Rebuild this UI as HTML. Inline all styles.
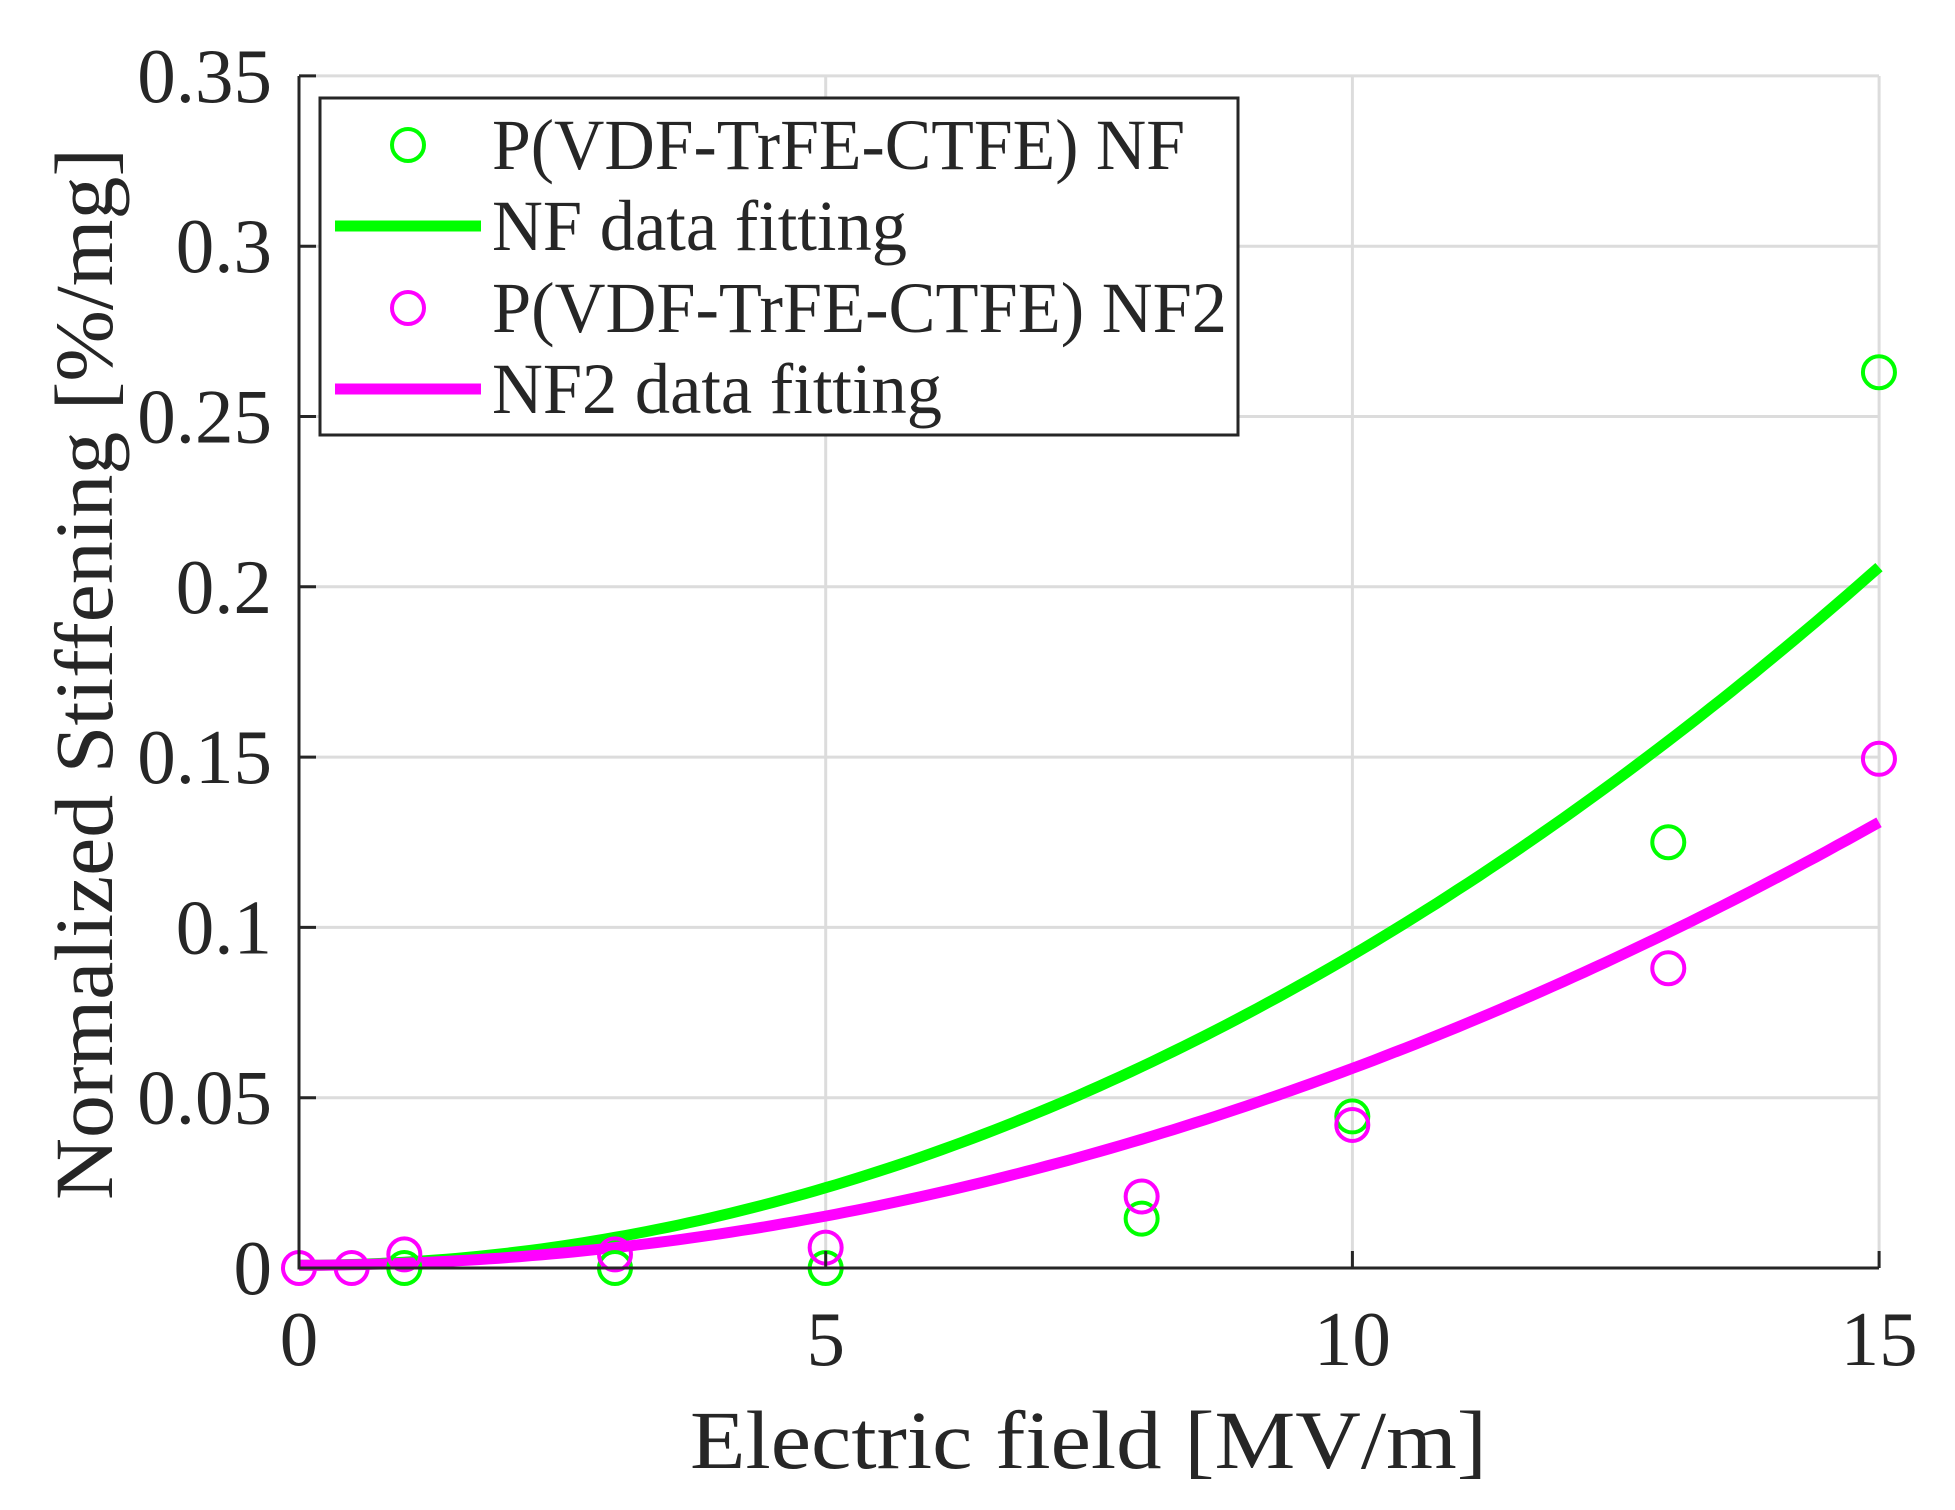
<!DOCTYPE html>
<html><head><meta charset="utf-8"><style>
html,body{margin:0;padding:0;background:#fff;}
svg{display:block;}
svg text{font-family:"Liberation Serif","Times New Roman","DejaVu Serif",serif !important;fill:#262626;}
</style></head><body>
<svg id="s" width="1955" height="1510" viewBox="0 0 1955 1510" xmlns="http://www.w3.org/2000/svg" font-family="'Liberation Serif', 'DejaVu Serif', serif">
<rect width="1955" height="1510" fill="#fff"/>
<g id="grid" stroke="#dcdcdc" stroke-width="3"></g>
<g id="curves" fill="none" stroke-width="11" stroke-linejoin="round"></g>
<g id="marks" fill="none" stroke-width="4"></g>
<g id="axes" stroke="#262626" stroke-width="3" fill="none"></g>
<g id="labels" font-size="77" font-family="'Liberation Serif', serif"></g>
<text x="690" y="1468" font-size="83" font-family="'Liberation Serif', serif" textLength="797" lengthAdjust="spacingAndGlyphs">Electric field [MV/m]</text>
<text transform="translate(112,1200) rotate(-90)" font-size="83" font-family="'Liberation Serif', serif" textLength="1052" lengthAdjust="spacingAndGlyphs">Normalized Stiffening [%/mg]</text>
<rect x="320" y="98" width="918" height="337" fill="#fff" stroke="#262626" stroke-width="3"/>
<circle cx="408" cy="145" r="16" fill="none" stroke="#00ff00" stroke-width="4"/>
<line x1="335" y1="226" x2="481" y2="226" stroke="#00ff00" stroke-width="11"/>
<circle cx="408" cy="308" r="16" fill="none" stroke="#ff00ff" stroke-width="4"/>
<line x1="335" y1="389" x2="481" y2="389" stroke="#ff00ff" stroke-width="11"/>
<g font-size="72" font-family="'Liberation Serif', serif">
<text x="492" y="169" textLength="693" lengthAdjust="spacingAndGlyphs">P(VDF-TrFE-CTFE) NF</text>
<text x="492" y="250" textLength="415" lengthAdjust="spacingAndGlyphs">NF data fitting</text>
<text x="492" y="332" textLength="735" lengthAdjust="spacingAndGlyphs">P(VDF-TrFE-CTFE) NF2</text>
<text x="492" y="413" textLength="450" lengthAdjust="spacingAndGlyphs">NF2 data fitting</text>
</g>
</svg>
<script>
var NS="http://www.w3.org/2000/svg";
function px(x){return 299+x*105.33;}
function py(y){return 1268-y*3406;}
function el(p,t,a,txt){var e=document.createElementNS(NS,t);for(var k in a)e.setAttribute(k,a[k]);if(txt!==undefined)e.textContent=txt;document.getElementById(p).appendChild(e);return e;}
var L=299,R=1879,T=76,B=1268;
for(var i=1;i<=7;i++){var y=B-i*170.3;el("grid","line",{x1:L,y1:y,x2:R,y2:y});}
for(var i=1;i<=3;i++){var x=L+i*526.7;el("grid","line",{x1:x,y1:T,x2:x,y2:B});}
function curve(a,c){var d="";for(var i=0;i<=150;i++){var x=i/10;d+=(i?"L":"M")+px(x).toFixed(1)+","+py(a*x*x+0.0008).toFixed(1);}el("curves","path",{d:d,stroke:c});}
curve(0.000911,"#00ff00");curve(0.000578,"#ff00ff");
var g=[[1,0],[3,0],[5,0],[8,0.0145],[10,0.0445],[13,0.125],[15,0.263]];
var m=[[0,0],[0.5,0],[1,0.004],[3,0.004],[5,0.006],[8,0.021],[10,0.042],[13,0.088],[15,0.1495]];
g.forEach(function(p){el("marks","circle",{cx:px(p[0]),cy:py(p[1]),r:16,stroke:"#00ff00"});});
m.forEach(function(p){el("marks","circle",{cx:px(p[0]),cy:py(p[1]),r:16,stroke:"#ff00ff"});});
el("axes","line",{x1:L,y1:T,x2:L,y2:B+1.5});
el("axes","line",{x1:L-1.5,y1:B,x2:R,y2:B});
var yl=["0","0.05","0.1","0.15","0.2","0.25","0.3","0.35"];
for(var i=0;i<=7;i++){var y=B-i*170.3;el("axes","line",{x1:L,y1:y,x2:L+17,y2:y});el("labels","text",{x:272,y:y+26,"text-anchor":"end"},yl[i]);}
for(var i=0;i<=3;i++){var x=L+i*526.7;el("axes","line",{x1:x,y1:B,x2:x,y2:B-17});el("labels","text",{x:x,y:1365,"text-anchor":"middle"},String(i*5));}
</script>
</body></html>
